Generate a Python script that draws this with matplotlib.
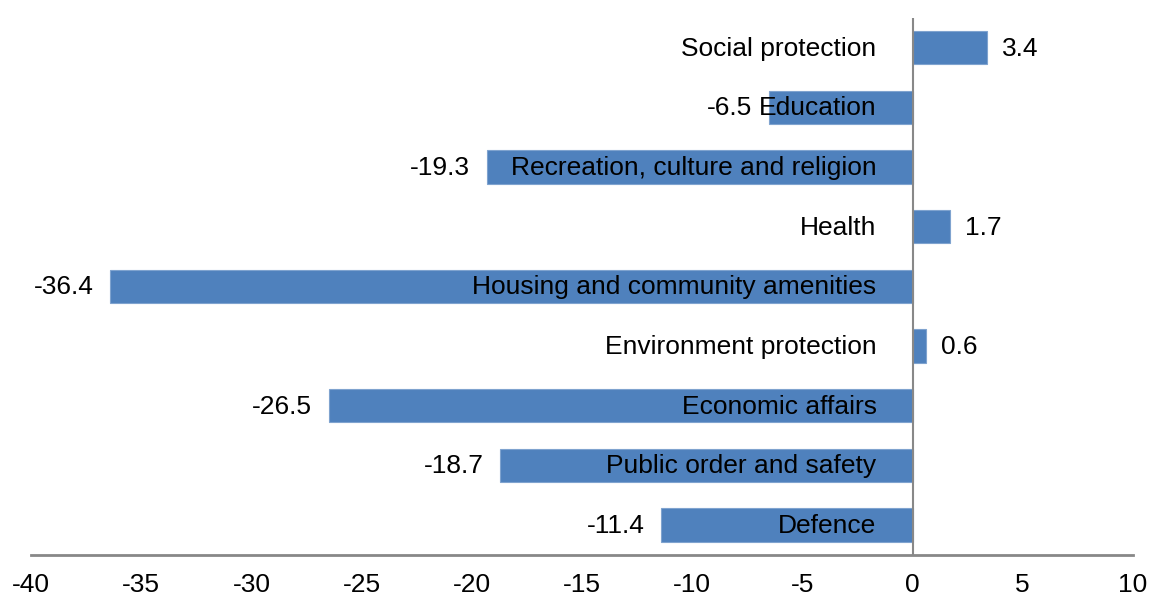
import matplotlib.pyplot as plt

plt.rcParams['font.family'] = ['Liberation Sans', 'DejaVu Sans']

categories = ['Defence', 'Public order and safety', 'Economic affairs',
              'Environment protection', 'Housing and community amenities',
              'Health', 'Recreation, culture and religion', 'Education',
              'Social protection']
values = [-11.4, -18.7, -26.5, 0.6, -36.4, 1.7, -19.3, -6.5, 3.4]
xticks = [-40, -35, -30, -25, -20, -15, -10, -5, 0, 5, 10]

fig = plt.figure(figsize=(11.49, 5.96), dpi=100)
ax = fig.add_axes([0.027, 0.069, 0.959, 0.901])

pos = list(range(len(categories)))
ax.barh(pos, values, height=0.56, color='#4F81BD', edgecolor='#7FA3CF', linewidth=0.8, zorder=2)

fs = 19
for i, (cat, v) in enumerate(zip(categories, values)):
    ax.annotate(cat, xy=(0, i), xytext=(-36, -1), textcoords='offset pixels',
                ha='right', va='center', fontsize=fs, color='black', zorder=3)
    if v >= 0:
        ax.annotate(f'{v:.1f}', xy=(v, i), xytext=(15, -1), textcoords='offset pixels',
                    ha='left', va='center', fontsize=fs, color='black')
    else:
        ax.annotate(f'{v:.1f}', xy=(v, i), xytext=(-17, -1), textcoords='offset pixels',
                    ha='right', va='center', fontsize=fs, color='black')

ax.axvline(0, color='#888888', lw=1.5, zorder=4)
ax.set_xlim(-40, 10)
ax.set_ylim(-0.5, len(categories) - 0.5)
ax.set_xticks(xticks)
ax.set_xticklabels([str(t) for t in xticks])
ax.set_yticks([])
ax.tick_params(axis='x', length=0, pad=13, labelsize=fs)
for s in ['top', 'right', 'left']:
    ax.spines[s].set_visible(False)
ax.spines['bottom'].set_color('#888888')
ax.spines['bottom'].set_linewidth(2)

fig.savefig('out.png', dpi=100)
